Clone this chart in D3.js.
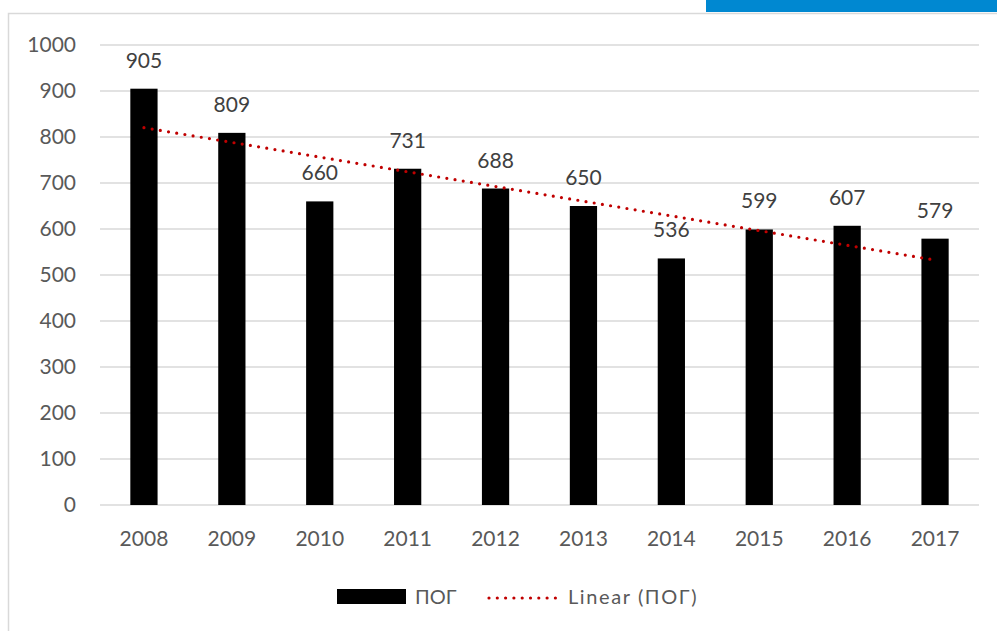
<!DOCTYPE html>
<html>
<head>
<meta charset="utf-8">
<script src="https://cdn.jsdelivr.net/npm/d3@7"></script>
<style>
    body { margin: 0; background: #fff; }
    svg { display: block; font-family: Lato, "Open Sans", sans-serif; }
</style>
</head>
<body>
<svg id="chart" width="997" height="631"></svg>
<script>
const years = ["2008", "2009", "2010", "2011", "2012", "2013", "2014", "2015", "2016", "2017"];
const values = [905, 809, 660, 731, 688, 650, 536, 599, 607, 579];
const yTicks = [0, 100, 200, 300, 400, 500, 600, 700, 800, 900, 1000];
const seriesName = "ПОГ";
const trendName = "Linear (ПОГ)";

const svg = d3.select("#chart");

// Frame and the blue strip at the top right
svg.append("rect")
    .attr("x", 8.5).attr("y", 13.5)
    .attr("width", 1000).attr("height", 700)
    .attr("fill", "none").attr("stroke", "#d9d9d9").attr("stroke-width", 1.5);
svg.append("rect")
    .attr("x", 706).attr("y", 0)
    .attr("width", 291).attr("height", 12)
    .attr("fill", "#0088d1");

const plot = {left: 100, right: 979, top: 45, bottom: 505};

const x = d3.scaleBand()
    .domain(years)
    .range([plot.left, plot.right])
    .paddingInner(0.69)
    .paddingOuter(0.345);

const y = d3.scaleLinear()
    .domain([0, 1000])
    .range([plot.bottom, plot.top]);

// Gridlines
svg.append("g")
    .selectAll("line")
    .data(yTicks)
    .enter()
    .append("line")
        .attr("x1", plot.left).attr("x2", plot.right)
        .attr("y1", d => y(d)).attr("y2", d => y(d))
        .attr("stroke", "#d9d9d9").attr("stroke-width", 1.5);

// Y axis labels
const yAxis = svg.append("g")
    .attr("transform", "translate(" + (plot.left - 24) + ",0)")
    .call(d3.axisLeft(y).tickValues(yTicks).tickFormat(d3.format("d")).tickSize(0).tickPadding(0));
yAxis.select(".domain").remove();
yAxis.selectAll("text")
    .attr("font-size", 21).attr("fill", "#595959")
    .attr("font-family", "Lato, sans-serif");

// X axis labels
const xAxis = svg.append("g")
    .attr("transform", "translate(0," + plot.bottom + ")")
    .call(d3.axisBottom(x).tickSize(0).tickPadding(26));
xAxis.select(".domain").remove();
xAxis.selectAll("text")
    .attr("font-size", 21).attr("fill", "#595959")
    .attr("font-family", "Lato, sans-serif");

// Bars
svg.selectAll(".bar")
    .data(values)
    .enter()
    .append("rect")
        .attr("class", "bar")
        .attr("x", (d, i) => x(years[i]))
        .attr("y", d => y(d))
        .attr("width", x.bandwidth())
        .attr("height", d => plot.bottom - y(d))
        .attr("fill", "#000");

// Value labels
svg.selectAll(".val")
    .data(values)
    .enter()
    .append("text")
        .attr("class", "val")
        .attr("x", (d, i) => x(years[i]) + x.bandwidth() / 2)
        .attr("y", d => y(d) - 21)
        .attr("text-anchor", "middle")
        .attr("font-size", 21)
        .attr("fill", "#404040")
        .text(d => d);

// Linear trend (least squares over the bars)
const n = values.length;
const mx = d3.mean(values, (d, i) => i);
const my = d3.mean(values);
const slope = d3.sum(values, (d, i) => (i - mx) * (d - my)) / d3.sum(values, (d, i) => (i - mx) * (i - mx));
const icpt = my - slope * mx;
const trend = [0, n - 1].map(i => [x(years[i]) + x.bandwidth() / 2, y(icpt + slope * i)]);

svg.append("path")
    .attr("d", d3.line()(trend))
    .attr("fill", "none")
    .attr("stroke", "#c00000")
    .attr("stroke-width", 3.2)
    .attr("stroke-linecap", "round")
    .attr("stroke-dasharray", "0,8.3");

// Legend
const leg = svg.append("g");
leg.append("rect")
    .attr("x", 337).attr("y", 589)
    .attr("width", 69).attr("height", 15)
    .attr("fill", "#000");
leg.append("text")
    .attr("x", 415).attr("y", 604)
    .attr("font-size", 20).attr("fill", "#595959")
    .text(seriesName);
leg.append("line")
    .attr("x1", 489).attr("x2", 558)
    .attr("y1", 598).attr("y2", 598)
    .attr("stroke", "#c00000")
    .attr("stroke-width", 3.2)
    .attr("stroke-linecap", "round")
    .attr("stroke-dasharray", "0,8.3");
leg.append("text")
    .attr("x", 568).attr("y", 604)
    .attr("font-size", 20).attr("fill", "#595959")
    .attr("letter-spacing", 1.6)
    .text(trendName);
</script>
</body>
</html>
